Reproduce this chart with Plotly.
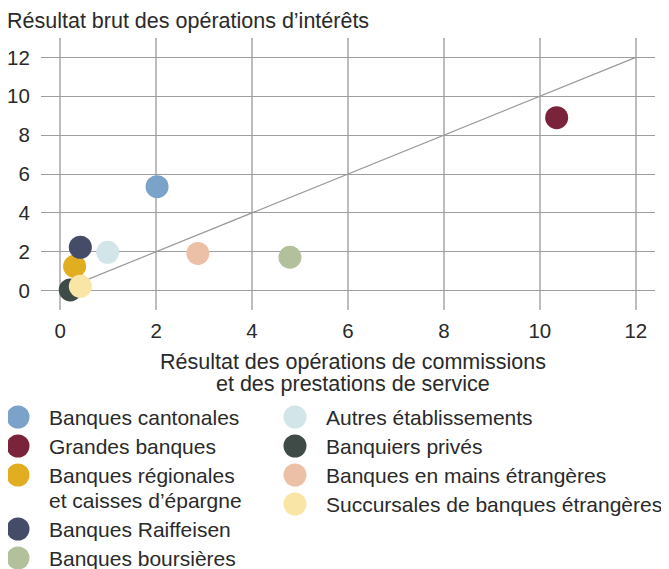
import plotly.graph_objects as go

# ---------------- data ----------------
categories = [
    "Banques cantonales",
    "Grandes banques",
    "Banques régionales<br>et caisses d’épargne",
    "Banques Raiffeisen",
    "Banques boursières",
    "Autres établissements",
    "Banquiers privés",
    "Banques en mains étrangères",
    "Succursales de banques étrangères",
]
commissions = [2.02, 10.35, 0.30, 0.42, 4.79, 0.99, 0.21, 2.87, 0.42]
interets = [5.35, 8.90, 1.25, 2.23, 1.72, 1.97, 0.03, 1.91, 0.22]
colors = ["#7BA2C8", "#79243A", "#E2AE21", "#444C68", "#B2C19C",
          "#D2E5E9", "#3E4B46", "#ECC0A7", "#F9E6A7"]
diag_x = [0, 12]
diag_y = [0, 12]
x_ticks = [0, 2, 4, 6, 8, 10, 12]
y_ticks = [0, 2, 4, 6, 8, 10, 12]
y_title = "Résultat brut des opérations d’intérêts"
x_title = "Résultat des opérations de commissions<br>et des prestations de service"

# ---------------- layout constants ----------------
OFF = 8                      # default page body margin
W, H = 669 - OFF, 569 - OFF  # figure size so the page matches the window
FONT = "Liberation Sans"
FS = 20.5
FS_LEG = 21
FS_TITLE = 21.5
TXT = "#2a2a2a"
plot_left, plot_right, plot_top, plot_bottom = 41 - OFF, 655 - OFF, 38 - OFF, 310 - OFF

fig = go.Figure()

# diagonal reference line
fig.add_trace(go.Scatter(x=diag_x, y=diag_y, mode="lines",
                         line=dict(color="#999999", width=1.2),
                         hoverinfo="skip", showlegend=False))

# data points
for name, xv, yv, c in zip(categories, commissions, interets, colors):
    fig.add_trace(go.Scatter(x=[xv], y=[yv], mode="markers", name=name.replace("<br>", " "),
                             marker=dict(size=23, color=c, line=dict(width=0)),
                             cliponaxis=False, showlegend=False))

annots = []


def add_text(x, y, text, size, anchor="left", xshift=0):
    annots.append(dict(x=x, y=y, xref="x2", yref="y2", text=text, showarrow=False,
                       xanchor=anchor, yanchor="middle", align=anchor, xshift=xshift,
                       font=dict(family=FONT, size=size, color=TXT)))


# custom legend (two columns) drawn on an overlay axis in page-pixel units
n_left = 5
col_x = [18, 295]
text_x = [47, 324]
row_pitch, line_pitch = 29, 25
leg_x, leg_y = [], []
ys = [417, 417]
for i, name in enumerate(categories):
    col = 0 if i < n_left else 1
    lines = name.split("<br>")
    y0 = ys[col]
    leg_x.append(col_x[col])
    leg_y.append(y0)
    for k, ln in enumerate(lines):
        add_text(text_x[col], y0 + line_pitch * k, ln, FS_LEG)
    ys[col] = y0 + row_pitch + line_pitch * (len(lines) - 1)

fig.add_trace(go.Scatter(x=leg_x, y=leg_y, mode="markers", xaxis="x2", yaxis="y2",
                         marker=dict(size=23, color=colors, line=dict(width=0)),
                         cliponaxis=False, hoverinfo="skip", showlegend=False))

# axis titles
add_text(OFF, 21, y_title, FS_TITLE, xshift=-3)
for k, ln in enumerate(x_title.split("<br>")):
    add_text(353, 362 + 22 * k, ln, FS_TITLE, anchor="center")

fig.update_layout(
    width=W, height=H,
    margin=dict(l=0, r=0, t=0, b=0),
    paper_bgcolor="white", plot_bgcolor="rgba(0,0,0,0)",
    font=dict(family=FONT, size=FS, color=TXT),
    showlegend=False,
    annotations=annots,
    xaxis=dict(domain=[plot_left / W, plot_right / W], range=[-0.4, 12.4],
               tickvals=x_ticks, ticks="outside", ticklen=2, tickcolor="rgba(0,0,0,0)",
               showgrid=True, gridcolor="#BDBDBD", gridwidth=2,
               zeroline=False, showline=False, fixedrange=True, anchor="y",
               tickfont=dict(family=FONT, size=FS, color=TXT)),
    yaxis=dict(domain=[1 - plot_bottom / H, 1 - plot_top / H], range=[-1, 13],
               tickvals=y_ticks, ticks="outside", ticklen=6, tickcolor="rgba(0,0,0,0)",
               showgrid=True, gridcolor="#9E9E9E", gridwidth=1.2,
               zeroline=False, showline=False, fixedrange=True, anchor="x",
               tickfont=dict(family=FONT, size=FS, color=TXT)),
    xaxis2=dict(domain=[0, 1], range=[OFF, OFF + W], visible=False, fixedrange=True,
                anchor="y2"),
    yaxis2=dict(domain=[0, 1], range=[OFF + H, OFF], visible=False, fixedrange=True,
                anchor="x2"),
)

fig.write_html("out.html")
